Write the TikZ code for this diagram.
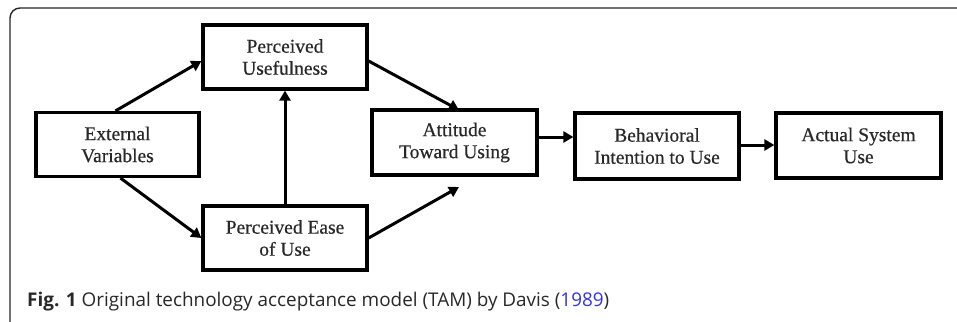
\documentclass[tikz,border=0pt]{standalone}
\usepackage{fontspec}
\setmainfont{Liberation Serif}
\newfontfamily\boxfont[FakeBold=0.5]{Liberation Serif}
\newfontfamily\capfont{Open Sans}
\usetikzlibrary{arrows.meta}
\definecolor{linkblue}{RGB}{50,50,230}
\definecolor{captxt}{RGB}{40,40,40}
\definecolor{boxtxt}{RGB}{40,40,40}
\begin{document}
\begin{tikzpicture}[x=1pt,y=-1pt,
  box/.style={draw=black,line width=3.2pt,rectangle,inner sep=0pt,align=center,
    text=boxtxt,font=\boxfont\fontsize{19.5}{22}\selectfont},
  arr/.style={line width=3pt,-{Triangle[length=10pt,width=11pt]}}]
\useasboundingbox (0,0) rectangle (957,321);
\begin{scope}
\clip (0,0) rectangle (957,321);
\draw[line width=1.4pt,rounded corners=10pt,draw=black!85] (10,8) rectangle (980,335);
\end{scope}
\node[box,minimum width=163pt,minimum height=64pt] (ev) at (117.5,144.5) {External\\Variables};
\node[box,minimum width=164pt,minimum height=64pt] (pu) at (285,57) {Perceived\\Usefulness};
\node[box,minimum width=164pt,minimum height=64pt] (pe) at (285,238) {Perceived Ease\\of Use};
\node[box,minimum width=165pt,minimum height=65pt] (atu) at (454.5,142.5) {Attitude\\Toward Using};
\node[box,minimum width=164pt,minimum height=66pt] (bi) at (657,146) {Behavioral\\Intention to Use};
\node[box,minimum width=165pt,minimum height=65pt] (asu) at (858.5,145.5) {Actual System\\Use};
\coordinate (peend) at (459,187);
\coordinate (puend) at (459,110);
\draw[arr] ([xshift=-2pt]ev.north) -- ([yshift=-4pt]pu.west);
\draw[arr] ([xshift=3pt]ev.south) -- (pe.west);
\draw[arr] (pe.north) -- (pu.south);
\draw[arr] ([yshift=-4pt]pu.east) -- (puend);
\draw[arr] (pe.east) -- (peend);
\draw[arr] ([yshift=5.5pt]atu.east) -- ([yshift=5.5pt]atu.east -| bi.west);
\draw[arr] ([yshift=1pt]bi.east) -- ([yshift=1pt]bi.east -| asu.west);
\node[anchor=base west,inner sep=0pt,text=captxt,font=\capfont\fontsize{18.9}{21}\selectfont] (cap) at (27,306)
  {\textbf{Fig. 1} Original technology acceptance model (TAM) by Davis (\textcolor{linkblue}{1989})};
\end{tikzpicture}
\end{document}
